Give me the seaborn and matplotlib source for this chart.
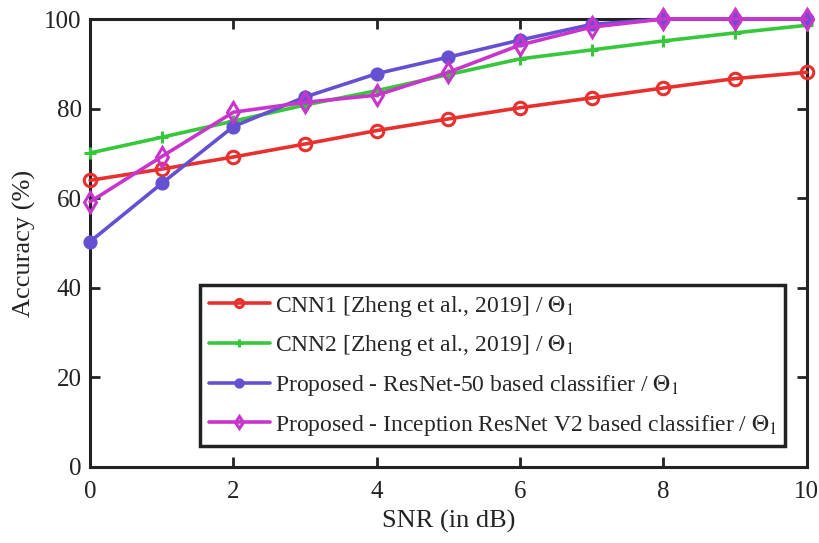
import matplotlib
matplotlib.use("Agg")
import matplotlib.pyplot as plt
import seaborn as sns
import pandas as pd

snr = [0, 1, 2, 3, 4, 5, 6, 7, 8, 9, 10]
cnn1 = [64.0, 66.5, 69.2, 72.1, 75.1, 77.7, 80.2, 82.4, 84.6, 86.7, 88.1]
cnn2 = [70.1, 73.6, 77.2, 80.8, 84.0, 87.6, 91.1, 93.1, 95.1, 96.9, 98.6]
resnet50 = [50.3, 63.3, 76.0, 82.6, 87.8, 91.5, 95.3, 98.8, 100.0, 100.0, 100.0]
inception = [59.2, 69.3, 79.2, 81.4, 83.0, 88.1, 94.2, 98.2, 100.0, 100.0, 100.0]

labels = [
    r"CNN1 [Zheng et al., 2019] / $\Theta_1$",
    r"CNN2 [Zheng et al., 2019] / $\Theta_1$",
    r"Proposed - ResNet-50 based classifier / $\Theta_1$",
    r"Proposed - Inception ResNet V2 based classifier / $\Theta_1$",
]
colors = ["#e8302e", "#36c83a", "#6650d2", "#c935cc"]
markers = ["o", "+", "o", "d"]
filled = [False, False, True, False]

sns.set_theme(style="ticks")
plt.rcParams["font.family"] = ["Liberation Serif", "DejaVu Serif"]
plt.rcParams["mathtext.fontset"] = "stix"

fig = plt.figure(figsize=(8.19, 5.43), dpi=100)
ax = fig.add_axes([0.110, 0.140, 0.875, 0.825])

for vals, lab, col, mk, fl in zip([cnn1, cnn2, resnet50, inception], labels, colors, markers, filled):
    df = pd.DataFrame({"SNR": snr, "Accuracy": vals})
    kw = dict(marker=mk, markersize=10 if mk == "d" else 9, markeredgewidth=2.2,
              markeredgecolor=col)
    kw["markerfacecolor"] = col if fl else "none"
    if mk == "o" and fl:
        kw["markersize"] = 8
    sns.lineplot(data=df, x="SNR", y="Accuracy", ax=ax, color=col, linewidth=2.6,
                 label=lab, clip_on=False, zorder=3, **kw)

ax.set_xlim(0, 10)
ax.set_ylim(0, 100)
ax.set_xticks([0, 2, 4, 6, 8, 10])
ax.set_yticks([0, 20, 40, 60, 80, 100])
ax.tick_params(direction="in", length=7, width=2, labelsize=18, top=True, right=True,
               colors="#222222", labelcolor="#222222")
ax.tick_params(axis="x", pad=10)
ax.tick_params(axis="y", pad=6)
for s in ax.spines.values():
    s.set_linewidth(2.2)
    s.set_color("#222222")
    s.set_zorder(2)
ax.set_xlabel("SNR (in dB)", fontsize=19, color="#222222", labelpad=5)
ax.set_ylabel("Accuracy (%)", fontsize=19, color="#222222", labelpad=6)

leg = ax.legend(loc="lower right", bbox_to_anchor=(0.97, 0.047), fontsize=17,
                frameon=True, fancybox=False, framealpha=1, edgecolor="#222222",
                handlelength=2.6, handletextpad=0.2, borderpad=0.35, labelspacing=0.62,
                borderaxespad=0, markerscale=0.65)
leg.get_frame().set_linewidth(2.5)
leg.set_zorder(5)

fig.savefig("out.png", dpi=100)
